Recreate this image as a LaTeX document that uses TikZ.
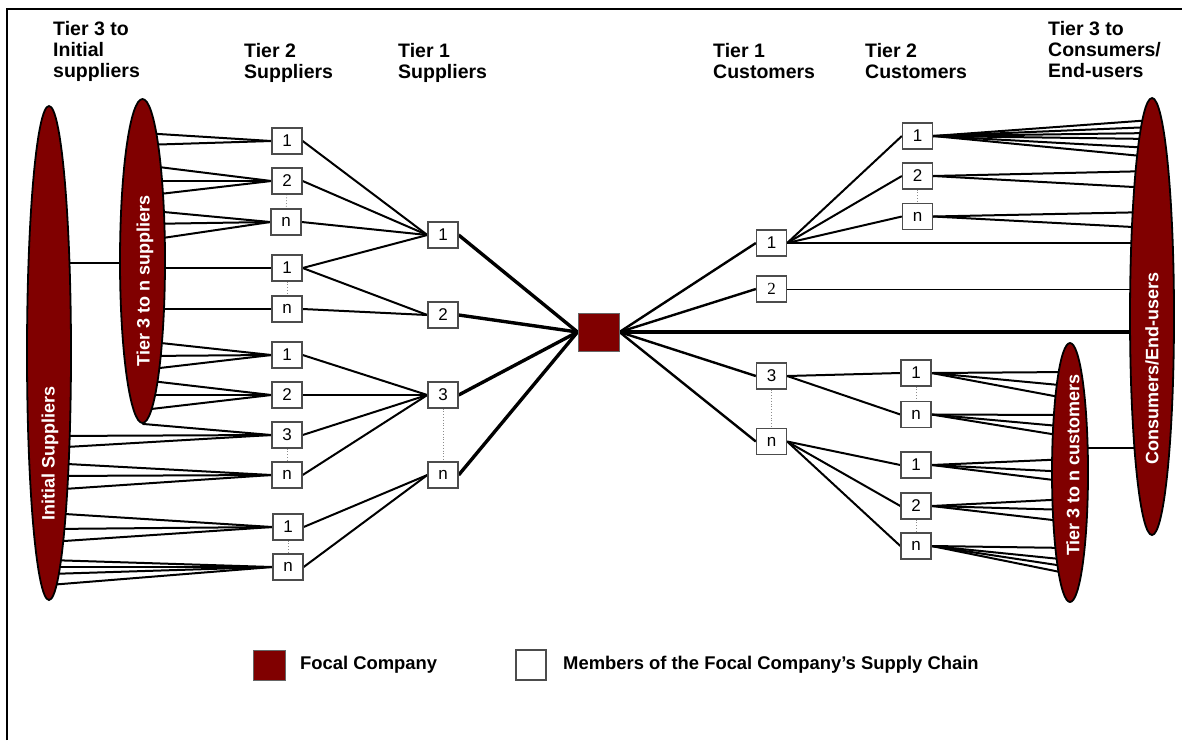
\documentclass[tikz,border=0pt]{standalone}
\usepackage{fontspec}
\setmainfont{Liberation Sans}
\newfontfamily\serifdigits{Liberation Serif}
\usetikzlibrary{shapes.geometric}
\definecolor{focalred}{HTML}{800000}
\pgfdeclarelayer{background}
\pgfsetlayers{background,main}
\tikzset{
  member/.style={draw=black!70, fill=white, line width=1.3pt, minimum width=30pt,
    minimum height=26pt, inner sep=0pt, font=\fontsize{17}{17}\selectfont},
  focalbox/.style={draw=black!60, fill=focalred, line width=1pt, minimum width=41pt,
    minimum height=38pt, inner sep=0pt},
  tierell/.style={ellipse, draw=black, fill=focalred, line width=1.8pt, inner sep=0pt},
  elltext/.style={text=white, rotate=90, inner sep=0pt,
    font=\bfseries\fontsize{18}{18}\selectfont},
  hdr/.style={anchor=north west, align=left, inner sep=0pt,
    font=\bfseries\fontsize{19.5}{21}\selectfont},
  legtext/.style={anchor=west, inner sep=0pt, font=\bfseries\fontsize{18.4}{20}\selectfont},
  link/.style={line width=2pt},
  trunk/.style={line width=3.4pt},
  thinlink/.style={line width=1pt},
  gap/.style={draw=black!45, dotted, line width=0.8pt},
}
\begin{document}
\begin{tikzpicture}[x=1pt,y=-1pt]
\useasboundingbox (0,0) rectangle (1182,740);

% column headings
\node[hdr] (hA) at (53,21)  {Tier 3 to\\Initial\\suppliers};
\node[hdr] (hB) at (244,43) {Tier 2\\Suppliers};
\node[hdr] (hC) at (398,43) {Tier 1\\Suppliers};
\node[hdr] (hD) at (713,43) {Tier 1\\Customers};
\node[hdr] (hE) at (865,43) {Tier 2\\Customers};
\node[hdr] (hF) at (1048,21) {Tier 3 to\\Consumers/\\End-users};

% supplier side groups
\node[tierell, minimum width=44pt, minimum height=494pt] (init) at (49,353) {};
\node[tierell, minimum width=45pt, minimum height=324pt] (s3) at (142.5,261) {};
\node[elltext] (initT) at (50,453) {Initial Suppliers};
\node[elltext] (s3T) at (145,281) {Tier 3 to n suppliers};

% tier 2 suppliers
\node[member] (t2a) at (287,141) {1};
\node[member] (t2b) at (287,181) {2};
\node[member] (t2c) at (286,222) {n};
\node[member] (t2d) at (287,268) {1};
\node[member] (t2e) at (287,309) {n};
\node[member] (t2f) at (287,355) {1};
\node[member] (t2g) at (287,395) {2};
\node[member] (t2h) at (287,435) {3};
\node[member] (t2i) at (287,475) {n};
\node[member] (t2j) at (288,527) {1};
\node[member] (t2k) at (288,567) {n};

% tier 1 suppliers
\node[member] (t1a) at (443,235) {1};
\node[member] (t1b) at (443,315) {2};
\node[member] (t1c) at (443,395) {3};
\node[member] (t1d) at (443,475) {n};

% focal company
\node[focalbox] (focal) at (598.5,332) {};

% tier 1 customers
\node[member] (r1a) at (771.5,243) {1};
\node[member] (r1b) at (771.5,289) {\serifdigits 2};
\node[member] (r1c) at (771.5,376) {3};
\node[member] (r1d) at (771.5,441.5) {n};

% tier 2 customers
\node[member] (r2a) at (917.5,136) {1};
\node[member] (r2b) at (917.5,176) {2};
\node[member] (r2c) at (917.5,216.5) {n};
\node[member] (r2d) at (916,373) {1};
\node[member] (r2e) at (916,414.5) {n};
\node[member] (r2f) at (916,465) {1};
\node[member] (r2g) at (916,506) {2};
\node[member] (r2h) at (916,546) {n};

% customer side groups
\node[tierell, minimum width=44pt, minimum height=437pt] (cons) at (1152,316.5) {};
\node[tierell, minimum width=36pt, minimum height=259pt] (c3) at (1070,472.5) {};
\node[elltext] (consT) at (1152,368) {Consumers/End-users};
\node[elltext] (c3T) at (1073,465) {Tier 3 to n customers};

% legend
\node[focalbox, minimum width=32pt, minimum height=30pt] (legF) at (269,665) {};
\node[legtext] (legFT) at (300,665) {Focal Company};
\node[member, minimum width=30pt, minimum height=30pt] (legM) at (531,665) {};
\node[legtext] (legMT) at (563,665) {Members of the Focal Company’s Supply Chain};

\begin{pgfonlayer}{background}
  \fill[white] (0,0) rectangle (1182,740);
  \draw[line width=2.5pt] (7,740) -- (7,9) -- (1182,9);

  % initial suppliers to tier 3 suppliers
  \draw[link] (init |- 0,263) -- (s3 |- 0,263);
  % fans into tier 2 suppliers
  \foreach \y in {133,145} \draw[link] (s3 |- 0,\y) -- (t2a.west);
  \foreach \y in {165,181,196} \draw[link] (s3 |- 0,\y) -- (t2b.west);
  \foreach \y in {210,224,241} \draw[link] (s3 |- 0,\y) -- (t2c.west);
  \draw[link] (s3 |- t2d) -- (t2d.west);
  \draw[link] (s3 |- t2e) -- (t2e.west);
  \foreach \y in {341,356,370} \draw[link] (s3 |- 0,\y) -- (t2f.west);
  \foreach \y in {380,395,410} \draw[link] (s3 |- 0,\y) -- (t2g.west);
  \draw[link] (s3.south) -- (t2h.west);
  \foreach \y in {436,448} \draw[link] (init |- 0,\y) -- (t2h.west);
  \foreach \y in {463,476,490} \draw[link] (init |- 0,\y) -- (t2i.west);
  \foreach \y in {513,529,542} \draw[link] (init |- 0,\y) -- (t2j.west);
  \foreach \y in {560,567,574,585} \draw[link] (init |- 0,\y) -- (t2k.west);

  % tier 2 to tier 1 suppliers
  \foreach \n in {t2a,t2b,t2c,t2d} \draw[link] (\n.east) -- (t1a.west);
  \foreach \n in {t2d,t2e} \draw[link] (\n.east) -- (t1b.west);
  \foreach \n in {t2f,t2g,t2h,t2i} \draw[link] (\n.east) -- (t1c.west);
  \foreach \n in {t2j,t2k} \draw[link] (\n.east) -- (t1d.west);

  % tier 1 suppliers to the focal company
  \foreach \n in {t1a,t1b,t1c,t1d} \draw[trunk] (\n.east) -- (focal.west);

  % focal company to customers
  \foreach \n in {r1a,r1b,r1c,r1d} \draw[line width=2.4pt] (focal.east) -- (\n.west);
  \draw[trunk] (focal.east) -- (cons |- focal);

  % tier 1 to tier 2 customers
  \foreach \n in {r2a,r2b,r2c} \draw[link] (r1a.east) -- (\n.west);
  \draw[link] (r1a.east) -- (cons |- r1a);
  \draw[thinlink] (r1b.east) -- (cons |- r1b);
  \foreach \n in {r2d,r2e} \draw[link] (r1c.east) -- (\n.west);
  \foreach \n in {r2f,r2g,r2h} \draw[link] (r1d.east) -- (\n.west);

  % fans into end users
  \foreach \y in {120,127,133,139,148,157} \draw[link] (r2a.east) -- (cons |- 0,\y);
  \foreach \y in {171,188} \draw[link] (r2b.east) -- (cons |- 0,\y);
  \foreach \y in {212,228} \draw[link] (r2c.east) -- (cons |- 0,\y);

  % fans into tier 3 customers
  \foreach \y in {372,386,399} \draw[link] (r2d.east) -- (c3 |- 0,\y);
  \foreach \y in {415,427,437} \draw[link] (r2e.east) -- (c3 |- 0,\y);
  \foreach \y in {459,472,482} \draw[link] (r2f.east) -- (c3 |- 0,\y);
  \foreach \y in {499,510,522} \draw[link] (r2g.east) -- (c3 |- 0,\y);
  \foreach \y in {548,560,567,574} \draw[link] (r2h.east) -- (c3 |- 0,\y);

  % tier 3 customers to end users
  \draw[link] (c3 |- 0,448) -- (cons |- 0,448);

  % elided members
  \foreach \a/\b in {t2b/t2c,t2d/t2e,t2h/t2i,t2j/t2k,t1c/t1d,r1c/r1d,r2b/r2c,r2d/r2e,r2g/r2h}
    \draw[gap] (\a) -- (\b);
\end{pgfonlayer}
\end{tikzpicture}
\end{document}
